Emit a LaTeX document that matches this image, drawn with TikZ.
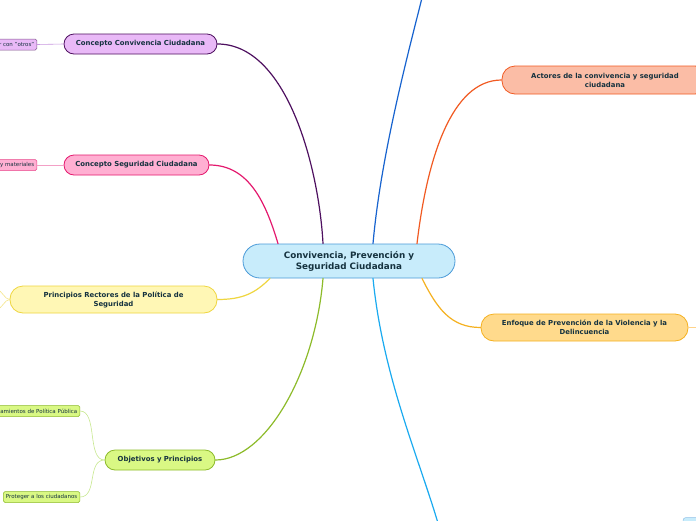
\documentclass[tikz,border=0pt]{standalone}
\usepackage{fontspec}
\setmainfont{DejaVu Sans}
\usetikzlibrary{calc}

\definecolor{inktext}{HTML}{15323F}
\definecolor{hubfill}{HTML}{C8ECFB}
\definecolor{hubdraw}{HTML}{4A9AD8}
\definecolor{lavfill}{HTML}{E9B9F7}
\definecolor{lavdraw}{HTML}{4E1060}
\definecolor{lavleaf}{HTML}{C898E0}
\definecolor{pinkfill}{HTML}{FFAFD2}
\definecolor{pinkdraw}{HTML}{E4196E}
\definecolor{pinkleaf}{HTML}{F3A0C6}
\definecolor{yelfill}{HTML}{FFF7B5}
\definecolor{yeldraw}{HTML}{EFD640}
\definecolor{yelleaf}{HTML}{F5E68A}
\definecolor{grnfill}{HTML}{D9F884}
\definecolor{grndraw}{HTML}{8DBB2A}
\definecolor{grnleaf}{HTML}{C8E890}
\definecolor{redfill}{HTML}{FBBDA6}
\definecolor{reddraw}{HTML}{F15A22}
\definecolor{orgfill}{HTML}{FFDA8C}
\definecolor{orgdraw}{HTML}{F5B120}
\definecolor{orgleaf}{HTML}{FFD38A}
\definecolor{bluedraw}{HTML}{1763CF}
\definecolor{cyandraw}{HTML}{1AAAF0}

\begin{document}
\begin{tikzpicture}[x=1pt,y=-1pt,line cap=round,
    every node/.style={text=inktext,align=center},
    hub/.style={draw=hubdraw,fill=hubfill,line width=0.8pt,rounded corners=17pt,
        minimum width=212pt,minimum height=34pt,font=\fontsize{8.8}{11}\selectfont\bfseries},
    topic/.style={line width=0.8pt,rounded corners=10pt,minimum height=20pt,
        inner sep=2pt,font=\fontsize{6.9}{9}\selectfont\bfseries},
    leaf/.style={line width=0.5pt,rounded corners=1.5pt,minimum height=11pt,
        inner sep=2.5pt,anchor=east,font=\fontsize{5.5}{6}\selectfont},
    branch/.style={line width=1.2pt}]
    \fill[white] (0,0) rectangle (696,520);
    \useasboundingbox (0,0) rectangle (696,520);

    % main branches
    \coordinate (topend) at (424,-10);
    \coordinate (botend) at (440,530);
    \coordinate (enfend) at (704,327.5);
    \coordinate (forkup) at (-3,290);
    \coordinate (forkdn) at (-3,309);

    \node[hub] (hub) at (349,261) {Convivencia, Prevención y\\Seguridad Ciudadana};

    \node[topic,draw=lavdraw,fill=lavfill,minimum width=153pt] (conviv) at (140.5,44) {Concepto Convivencia Ciudadana};
    \node[topic,draw=pinkdraw,fill=pinkfill,minimum width=145pt] (segur) at (136.5,165) {Concepto Seguridad Ciudadana};
    \node[topic,draw=yeldraw,fill=yelfill,minimum width=207pt,minimum height=27pt,rounded corners=13pt] (princ) at (113.5,299.5) {Principios Rectores de la Política de\\Seguridad};
    \node[topic,draw=grndraw,fill=grnfill,minimum width=110pt] (objet) at (160,460) {Objetivos y Principios};
    \node[topic,draw=reddraw,fill=redfill,minimum width=206pt,minimum height=28pt,rounded corners=13pt] (actor) at (605,80) {Actores de la convivencia y seguridad\\ciudadana};
    \node[topic,draw=orgdraw,fill=orgfill,minimum width=207pt,minimum height=27pt,rounded corners=13pt] (enfoq) at (584.5,327.5) {Enfoque de Prevención de la Violencia y la\\Delincuencia};

    \node[leaf,draw=lavdraw!70,fill=lavfill] (otros) at (37,44.5) {r con "otros"};
    \node[leaf,draw=pinkdraw!80,fill=pinkfill] (materia) at (37,165) {y materiales};
    \node[leaf,draw=grndraw,fill=grnfill] (linea) at (80,411) {amientos de Política Pública};
    \node[leaf,draw=grndraw,fill=grnfill] (proteg) at (80,497) {Proteger a los ciudadanos};

    \draw[branch,lavdraw] ([xshift=-26pt]hub.north) .. controls +(-4,-75) and +(70,0) .. (conviv.east);
    \draw[branch,pinkdraw] ([xshift=-71pt]hub.north) .. controls +(-12,-40) and +(40,0) .. (segur.east);
    \draw[branch,yeldraw] ([xshift=-79pt]hub.south) .. controls +(-15,15) and +(25,0) .. (princ.east);
    \draw[branch,grndraw] ([xshift=-26pt]hub.south) .. controls +(-8,95) and +(50,0) .. (objet.east);
    \draw[branch,bluedraw] ([xshift=24pt]hub.north) .. controls +(8,-90) and +(-15,60) .. (topend);
    \draw[branch,reddraw] ([xshift=68pt]hub.north) .. controls +(10,-85) and +(-50,0) .. (actor.west);
    \draw[branch,orgdraw] ([xshift=73pt]hub.south) .. controls +(15,30) and +(-30,0) .. (enfoq.west);
    \draw[branch,cyandraw] ([xshift=24pt]hub.south) .. controls +(10,100) and +(-20,-70) .. (botend);

    % leaf lines
    \draw[lavleaf,line width=0.6pt] (conviv.west) -- (otros.east);
    \draw[pinkleaf,line width=0.6pt] (segur.west) -- (materia.east);
    \draw[grnleaf,line width=0.6pt] (objet.west) .. controls +(-18,0) and +(18,0) .. (linea.east);
    \draw[grnleaf,line width=0.6pt] (objet.west) .. controls +(-18,0) and +(18,0) .. (proteg.east);
    \draw[yelleaf,line width=0.6pt] (princ.west) .. controls +(-5,0) and +(5,0) .. (forkup);
    \draw[yelleaf,line width=0.6pt] (princ.west) .. controls +(-5,0) and +(5,0) .. (forkdn);
    \draw[orgleaf,line width=0.6pt] (enfoq.east) -- (enfend);

    % edge of a node below the picture
    \draw[hubdraw!60,fill=hubfill,rounded corners=3pt,line width=0.5pt] (683,535) -- (683,517.5) -- (710,517.5);
\end{tikzpicture}
\end{document}
